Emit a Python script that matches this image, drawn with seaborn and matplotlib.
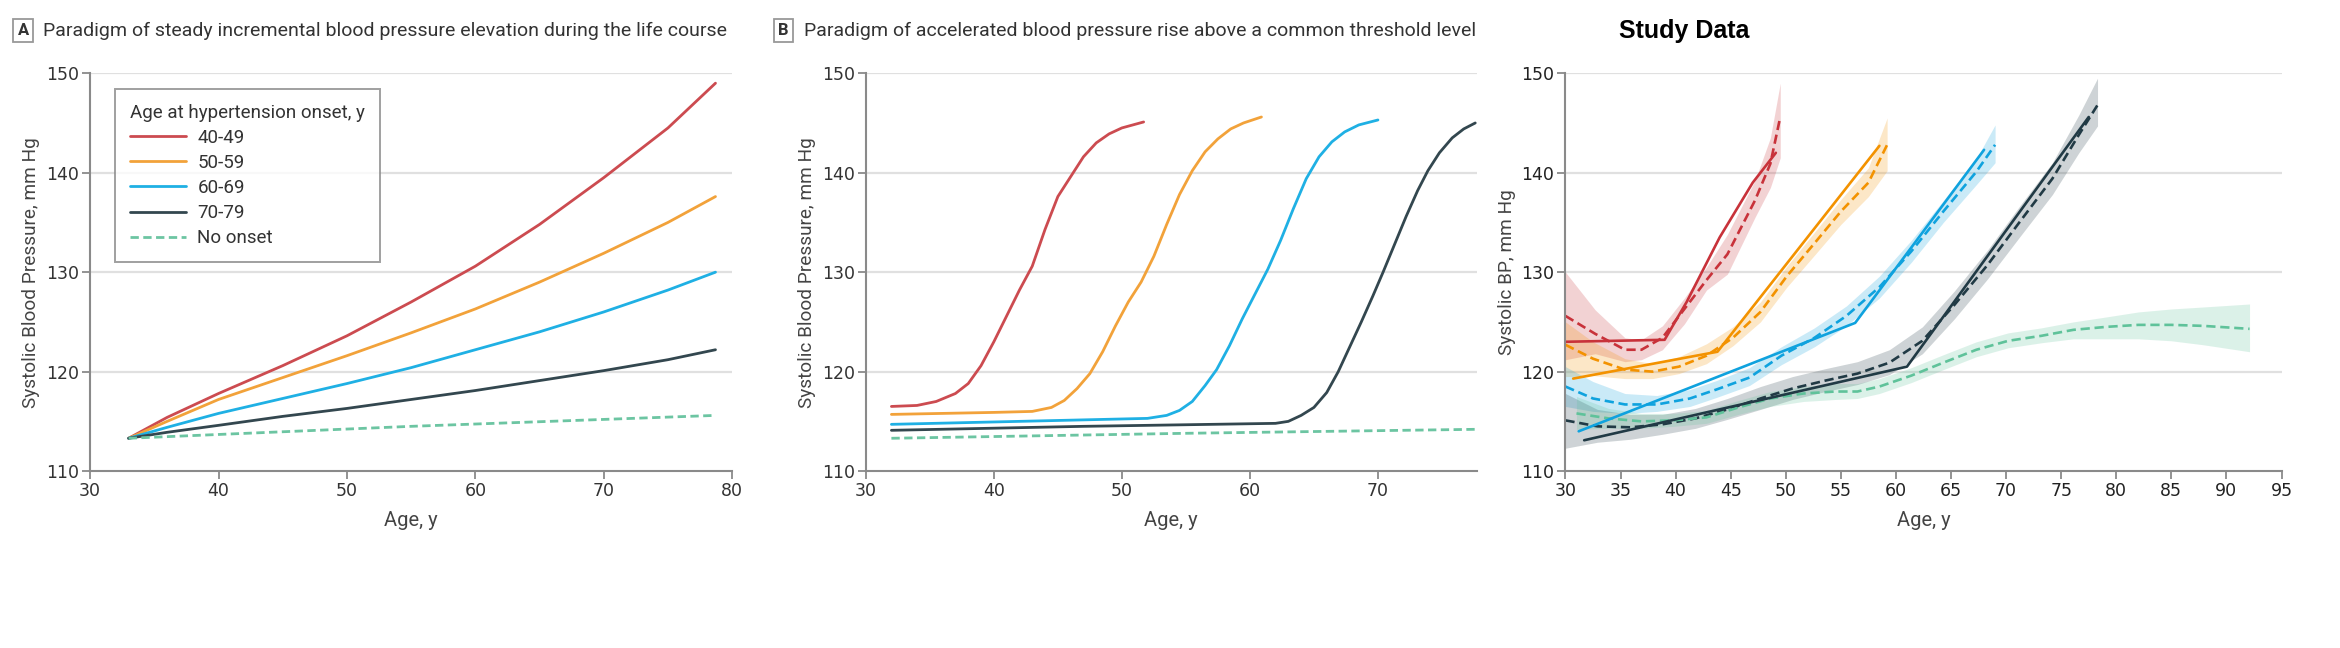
import numpy as np
import pandas as pd
import matplotlib
matplotlib.use("Agg")
import matplotlib.pyplot as plt
import seaborn as sns

# ---- Panel A: steady incremental paradigm ----
a_age = [33, 36, 40, 45, 50, 55, 60, 65, 70, 75, 78.7]
a_40 = [113.3, 115.4, 117.8, 120.6, 123.6, 127.0, 130.6, 134.8, 139.5, 144.5, 149.0]
a_50 = [113.3, 115.0, 117.2, 119.4, 121.6, 123.9, 126.3, 129.0, 131.9, 135.0, 137.6]
a_60 = [113.3, 114.4, 115.8, 117.3, 118.8, 120.4, 122.2, 124.0, 126.0, 128.2, 130.0]
a_70 = [113.3, 113.9, 114.6, 115.5, 116.3, 117.2, 118.1, 119.1, 120.1, 121.2, 122.2]
a_none_age = [33, 55, 78.7]
a_none = [113.3, 114.5, 115.6]

# ---- Panel B: accelerated rise paradigm ----
b_40_age = [32, 34, 35.5, 37, 38, 39, 40, 41, 42, 43, 44, 45, 46, 47, 48, 49, 50, 51.7]
b_40 = [116.5, 116.6, 117.0, 117.8, 118.8, 120.6, 123.0, 125.6, 128.2, 130.6, 134.3,
        137.6, 139.6, 141.6, 143.0, 143.9, 144.5, 145.1]
b_50_age = [32, 40, 43, 44.5, 45.5, 46.5, 47.5, 48.5, 49.5, 50.5, 51.5, 52.5, 53.5,
            54.5, 55.5, 56.5, 57.5, 58.5, 59.5, 60.9]
b_50 = [115.7, 115.9, 116.0, 116.4, 117.1, 118.3, 119.8, 122.0, 124.6, 127.0, 129.0,
        131.6, 134.8, 137.8, 140.2, 142.1, 143.4, 144.4, 145.0, 145.6]
b_60_age = [32, 42, 52, 53.5, 54.5, 55.5, 56.5, 57.4, 58.4, 59.4, 60.4, 61.4, 62.4,
            63.4, 64.4, 65.4, 66.4, 67.4, 68.5, 70]
b_60 = [114.7, 115.0, 115.3, 115.6, 116.1, 117.0, 118.6, 120.2, 122.6, 125.3, 127.8,
        130.3, 133.2, 136.4, 139.4, 141.6, 143.1, 144.1, 144.8, 145.3]
b_70_age = [32, 47, 62, 63, 64, 65, 66, 66.9, 67.8, 68.7, 69.6, 70.4, 71.3, 72.2,
            73.1, 73.9, 74.8, 75.8, 76.7, 77.6]
b_70 = [114.1, 114.5, 114.8, 115.0, 115.6, 116.4, 117.9, 120.0, 122.5, 125.0, 127.6,
        130.0, 132.8, 135.6, 138.2, 140.2, 142.0, 143.5, 144.4, 145.0]
b_none_age = [32, 55, 77.6]
b_none = [113.3, 113.8, 114.2]

# ---- Panel C: study data ----
c_40_obs_age = [30, 39, 41, 44, 47, 49.1]
c_40_obs = [123.0, 123.2, 127.0, 133.5, 139.0, 142.0]
c_40_age = [30, 32.7, 35.4, 36.9, 38.8, 40.8, 42.8, 44.7, 47.2, 48.6, 49.5]
c_40_fit = [125.6, 123.8, 122.2, 122.2, 123.4, 126.3, 129.2, 131.8, 137.2, 140.9, 145.6]
c_40_lo = [121.2, 121.8, 121.0, 121.2, 122.2, 124.8, 128.2, 129.8, 135.5, 138.5, 141.5]
c_40_hi = [130.0, 126.2, 123.4, 123.2, 124.6, 127.4, 130.5, 133.8, 139.2, 143.5, 149.0]

c_50_obs_age = [30.7, 43.8, 58.5]
c_50_obs = [119.3, 122.0, 142.7]
c_50_age = [30, 32.5, 35.4, 37.9, 40.3, 42.8, 45.2, 47.7, 50.1, 52.6, 55, 57.5, 59.2]
c_50_fit = [122.7, 121.3, 120.2, 120.0, 120.5, 121.6, 123.4, 126.0, 129.6, 132.9, 136.1, 139.0, 142.8]
c_50_lo = [119.5, 119.6, 119.3, 119.3, 119.8, 120.8, 122.6, 125.0, 128.5, 131.7, 134.8, 137.6, 140.2]
c_50_hi = [125.0, 123.0, 121.3, 120.8, 121.5, 122.8, 124.5, 127.0, 130.6, 134.0, 137.3, 140.5, 145.5]

c_60_obs_age = [31.2, 56.3, 68.0]
c_60_obs = [114.0, 124.9, 142.3]
c_60_age = [30, 32.5, 35.4, 38.3, 41.3, 43.7, 46.7, 49.6, 52.6, 55.5, 58.5, 61.4, 64.3, 67.3, 69]
c_60_fit = [118.5, 117.3, 116.7, 116.7, 117.3, 118.2, 119.4, 121.6, 123.4, 125.6, 128.5, 132.1, 136.1, 140.1, 142.8]
c_60_lo = [116.5, 116.0, 115.8, 116.0, 116.5, 117.4, 118.6, 120.7, 122.5, 124.6, 127.4, 131.0, 135.0, 138.8, 141.0]
c_60_hi = [120.5, 119.0, 117.8, 117.6, 118.2, 119.1, 120.4, 122.5, 124.4, 126.6, 129.6, 133.2, 137.2, 141.4, 144.8]

c_70_obs_age = [31.7, 61.0, 77.5]
c_70_obs = [113.1, 120.5, 145.6]
c_70_age = [30, 32.9, 35.9, 38.8, 41.8, 44.7, 47.7, 50.6, 53.6, 56.5, 59.4, 62.4, 65.3,
            68.3, 71.2, 74.2, 76.6, 78.3]
c_70_fit = [115.1, 114.5, 114.4, 114.7, 115.3, 116.2, 117.3, 118.3, 119.1, 119.8, 120.9,
            123.1, 126.7, 130.7, 135.0, 139.4, 143.8, 146.8]
c_70_lo = [112.3, 112.9, 113.2, 113.7, 114.3, 115.2, 116.2, 117.2, 118.0, 118.7, 119.7,
           121.8, 125.3, 129.3, 133.5, 137.8, 142.0, 144.7]
c_70_hi = [117.8, 116.2, 115.7, 115.7, 116.3, 117.3, 118.5, 119.5, 120.3, 121.0, 122.2,
           124.5, 128.1, 132.2, 136.6, 141.0, 145.8, 149.5]

c_none_age = [31, 33.9, 36.9, 39.8, 42.8, 45.7, 48.6, 51.6, 54.5, 56.5, 58.5, 61.4, 64.3,
              67.3, 70.2, 73.2, 76.1, 79.1, 82, 85, 87.9, 92.1]
c_none_fit = [115.8, 115.3, 115.0, 115.1, 115.4, 116.4, 117.3, 117.8, 118.0, 118.0, 118.5,
              119.6, 120.9, 122.2, 123.1, 123.6, 124.2, 124.5, 124.7, 124.7, 124.6, 124.3]
c_none_lo = [114.2, 114.3, 114.3, 114.5, 114.8, 115.7, 116.5, 117.0, 117.2, 117.3, 117.8,
             118.9, 120.2, 121.5, 122.4, 122.9, 123.3, 123.3, 123.3, 123.1, 122.7, 122.0]
c_none_hi = [117.5, 116.3, 115.8, 115.8, 116.1, 117.1, 118.0, 118.5, 118.8, 118.8, 119.3,
             120.4, 121.7, 123.0, 123.9, 124.4, 125.0, 125.5, 126.0, 126.3, 126.5, 126.8]

legend_title = "Age at hypertension onset, y"
labels = ["40-49", "50-59", "60-69", "70-79", "No onset"]
colors_ab = ["#cc4b50", "#f2a23a", "#1fb0e4", "#33474f", "#6cc5a2"]
colors_c = ["#c8323a", "#f39200", "#0fa2de", "#213a45", "#5fc29a"]

sns.set_theme(style="white")
NARROW = ["Roboto", "DejaVu Sans"]
plt.rcParams["font.family"] = ["DejaVu Sans"]

fig = plt.figure(figsize=(23.4, 6.48), dpi=100)
axA = fig.add_axes([0.0385, 0.273, 0.2744, 0.614])
axB = fig.add_axes([0.370, 0.273, 0.261, 0.614])
axC = fig.add_axes([0.669, 0.273, 0.306, 0.614])


def style_axis(ax, xlim, xticks, ylabel, xlabel="Age, y"):
    ax.set_xlim(*xlim)
    ax.set_ylim(110, 150)
    ax.set_xticks(xticks)
    ax.set_yticks([110, 120, 130, 140, 150])
    for y in [120, 130, 140, 150]:
        ax.axhline(y, color="#e0e0e0", lw=1.6, zorder=0)
    for s in ["top", "right"]:
        ax.spines[s].set_visible(False)
    for s in ["left", "bottom"]:
        ax.spines[s].set_color("#8a8a8a")
        ax.spines[s].set_linewidth(1.5)
    ax.tick_params(axis="both", direction="out", length=6, width=1.3, color="#8a8a8a",
                   labelsize=12.5, labelcolor="#333333", pad=2, left=True, bottom=True)
    ax.set_ylabel(ylabel, family=NARROW, fontsize=13.7, stretch="condensed",
                  color="#444444", labelpad=4)
    ax.set_xlabel(xlabel, family=NARROW, fontsize=14.5, stretch="condensed",
                  color="#444444", labelpad=8)


# Panel A
for ys, lab, col in zip([a_40, a_50, a_60, a_70], labels[:4], colors_ab[:4]):
    sns.lineplot(x=a_age, y=ys, ax=axA, color=col, lw=2.0, label=lab)
sns.lineplot(x=a_none_age, y=a_none, ax=axA, color=colors_ab[4], lw=2.0,
             linestyle=(0, (3, 1.6)), label=labels[4])
style_axis(axA, (30, 80), [30, 40, 50, 60, 70, 80], "Systolic Blood Pressure, mm Hg")
legend_font = {"family": NARROW, "size": 13.5, "stretch": "condensed"}
leg = axA.legend(title=legend_title, loc="upper left", bbox_to_anchor=(0.024, 0.985),
                 frameon=True, fancybox=False, edgecolor="#888888", handlelength=3.0,
                 handletextpad=0.6, borderpad=0.8, labelspacing=0.38, prop=legend_font,
                 title_fontproperties=legend_font)
leg._legend_box.align = "left"
leg.get_frame().set_linewidth(1.4)
for t in leg.get_texts():
    t.set_color("#333333")
leg.get_title().set_color("#333333")

# Panel B
for xs, ys, col in zip([b_40_age, b_50_age, b_60_age, b_70_age],
                       [b_40, b_50, b_60, b_70], colors_ab[:4]):
    sns.lineplot(x=xs, y=ys, ax=axB, color=col, lw=2.0)
sns.lineplot(x=b_none_age, y=b_none, ax=axB, color=colors_ab[4], lw=2.0,
             linestyle=(0, (3, 1.6)))
style_axis(axB, (30, 77.7), [30, 40, 50, 60, 70], "Systolic Blood Pressure, mm Hg")

# Panel C
bands = [(c_40_age, c_40_fit, c_40_lo, c_40_hi), (c_50_age, c_50_fit, c_50_lo, c_50_hi),
         (c_60_age, c_60_fit, c_60_lo, c_60_hi), (c_70_age, c_70_fit, c_70_lo, c_70_hi),
         (c_none_age, c_none_fit, c_none_lo, c_none_hi)]
obs = [(c_40_obs_age, c_40_obs), (c_50_obs_age, c_50_obs), (c_60_obs_age, c_60_obs),
       (c_70_obs_age, c_70_obs)]
for (xs, fit, lo, hi), col in zip(bands, colors_c):
    axC.fill_between(xs, lo, hi, color=col, alpha=0.22, lw=0)
    sns.lineplot(x=xs, y=fit, ax=axC, color=col, lw=1.9, linestyle=(0, (3.5, 1.8)))
for (xs, ys), col in zip(obs, colors_c[:4]):
    sns.lineplot(x=xs, y=ys, ax=axC, color=col, lw=1.9)
style_axis(axC, (30, 95), list(range(30, 96, 5)), "Systolic BP, mm Hg")
axC.tick_params(labelcolor="#222222")

# Titles
box = dict(boxstyle="square,pad=0.25", fc="white", ec="#999999", lw=1.3)
fig.text(0.0075, 0.953, "A", family=NARROW, fontsize=12, weight="bold", color="#333333",
         va="center", bbox=box)
fig.text(0.0185, 0.953, "Paradigm of steady incremental blood pressure elevation during the life course",
         family=NARROW, fontsize=14, stretch="condensed", color="#333333", va="center")
fig.text(0.3325, 0.953, "B", family=NARROW, fontsize=12, weight="bold", color="#333333",
         va="center", bbox=box)
fig.text(0.3435, 0.953, "Paradigm of accelerated blood pressure rise above a common threshold level",
         family=NARROW, fontsize=14, stretch="condensed", color="#333333", va="center")
fig.text(0.692, 0.952, "Study Data", family=["Liberation Sans", "DejaVu Sans"],
         fontsize=18, weight="bold", color="black", va="center")

fig.savefig("out.png", dpi=100, facecolor="white")
